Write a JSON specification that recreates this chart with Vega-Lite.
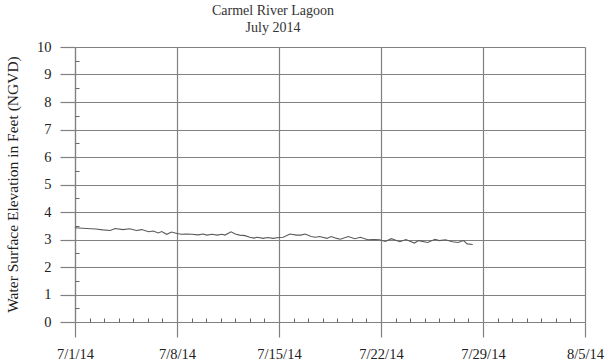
{
  "$schema": "https://vega.github.io/schema/vega-lite/v6.json",
  "width": 510,
  "height": 275,
  "autosize": {"type": "none"},
  "padding": {"left": 75, "top": 47, "right": 21, "bottom": 42},
  "background": "white",
  "config": {
    "view": {"stroke": null},
    "font": "Liberation Serif",
    "style": {"guide-label": {"font": "Liberation Serif"}, "guide-title": {"font": "Liberation Serif"}},
    "axis": {"labelFont": "Liberation Serif", "titleFont": "Liberation Serif"}
  },
  "title": {
    "text": ["Carmel River Lagoon", "July 2014"],
    "font": "Liberation Serif",
    "fontSize": 14,
    "fontWeight": "normal",
    "color": "#333",
    "lineHeight": 17,
    "anchor": "middle",
    "dx": -57,
    "dy": 1,
    "offset": 5
  },
  "data": {
    "values": [
      {"t": "2014-07-01T00:00", "v": 3.43},
      {"t": "2014-07-01T19:00", "v": 3.40},
      {"t": "2014-07-02T10:00", "v": 3.38},
      {"t": "2014-07-02T22:00", "v": 3.35},
      {"t": "2014-07-03T10:00", "v": 3.33},
      {"t": "2014-07-03T18:00", "v": 3.40},
      {"t": "2014-07-04T07:00", "v": 3.36},
      {"t": "2014-07-04T18:00", "v": 3.39},
      {"t": "2014-07-05T05:00", "v": 3.33},
      {"t": "2014-07-05T14:00", "v": 3.36},
      {"t": "2014-07-06T01:00", "v": 3.28},
      {"t": "2014-07-06T09:00", "v": 3.31},
      {"t": "2014-07-06T17:00", "v": 3.24},
      {"t": "2014-07-06T23:00", "v": 3.29},
      {"t": "2014-07-07T07:00", "v": 3.19},
      {"t": "2014-07-07T15:00", "v": 3.27},
      {"t": "2014-07-08T00:00", "v": 3.22},
      {"t": "2014-07-08T07:00", "v": 3.19},
      {"t": "2014-07-08T16:00", "v": 3.20},
      {"t": "2014-07-09T00:00", "v": 3.19},
      {"t": "2014-07-09T11:00", "v": 3.17},
      {"t": "2014-07-09T19:00", "v": 3.20},
      {"t": "2014-07-10T01:00", "v": 3.16},
      {"t": "2014-07-10T10:00", "v": 3.19},
      {"t": "2014-07-10T18:00", "v": 3.16},
      {"t": "2014-07-11T02:00", "v": 3.19},
      {"t": "2014-07-11T07:00", "v": 3.16},
      {"t": "2014-07-11T17:00", "v": 3.28},
      {"t": "2014-07-12T00:00", "v": 3.20},
      {"t": "2014-07-12T07:00", "v": 3.16},
      {"t": "2014-07-12T16:00", "v": 3.14},
      {"t": "2014-07-13T00:00", "v": 3.08},
      {"t": "2014-07-13T07:00", "v": 3.05},
      {"t": "2014-07-13T12:00", "v": 3.08},
      {"t": "2014-07-13T22:00", "v": 3.04},
      {"t": "2014-07-14T05:00", "v": 3.07},
      {"t": "2014-07-14T14:00", "v": 3.04},
      {"t": "2014-07-15T00:00", "v": 3.07},
      {"t": "2014-07-15T07:00", "v": 3.08},
      {"t": "2014-07-15T18:00", "v": 3.20},
      {"t": "2014-07-16T05:00", "v": 3.16},
      {"t": "2014-07-16T12:00", "v": 3.16},
      {"t": "2014-07-16T19:00", "v": 3.20},
      {"t": "2014-07-17T05:00", "v": 3.11},
      {"t": "2014-07-17T12:00", "v": 3.08},
      {"t": "2014-07-17T19:00", "v": 3.11},
      {"t": "2014-07-18T07:00", "v": 3.04},
      {"t": "2014-07-18T14:00", "v": 3.11},
      {"t": "2014-07-18T23:00", "v": 3.04},
      {"t": "2014-07-19T05:00", "v": 3.01},
      {"t": "2014-07-19T18:00", "v": 3.11},
      {"t": "2014-07-20T05:00", "v": 3.03},
      {"t": "2014-07-20T14:00", "v": 3.08},
      {"t": "2014-07-21T02:00", "v": 2.99},
      {"t": "2014-07-21T12:00", "v": 3.00},
      {"t": "2014-07-21T22:00", "v": 2.99},
      {"t": "2014-07-22T07:00", "v": 2.93},
      {"t": "2014-07-22T17:00", "v": 3.03},
      {"t": "2014-07-23T07:00", "v": 2.92},
      {"t": "2014-07-23T17:00", "v": 3.00},
      {"t": "2014-07-24T07:00", "v": 2.87},
      {"t": "2014-07-24T14:00", "v": 2.96},
      {"t": "2014-07-25T05:00", "v": 2.89},
      {"t": "2014-07-25T17:00", "v": 3.01},
      {"t": "2014-07-26T00:00", "v": 2.96},
      {"t": "2014-07-26T10:00", "v": 2.99},
      {"t": "2014-07-26T22:00", "v": 2.92},
      {"t": "2014-07-27T07:00", "v": 2.89},
      {"t": "2014-07-27T16:00", "v": 2.96},
      {"t": "2014-07-27T22:00", "v": 2.84},
      {"t": "2014-07-28T07:00", "v": 2.82}
    ]
  },
  "layer": [
    {
      "mark": {"type": "line", "color": "#5a5a5a", "strokeWidth": 1.1},
      "encoding": {
        "x": {
          "field": "t", "type": "temporal",
          "scale": {"domain": [{"year": 2014, "month": 7, "date": 1}, {"year": 2014, "month": 8, "date": 5}]},
          "axis": {
            "orient": "bottom", "title": null, "format": "%-m/%-d/%y",
            "labelFont": "Liberation Serif", "labelFontSize": 14.5, "labelColor": "#222",
            "values": [
              {"year": 2014, "month": 7, "date": 1}, {"year": 2014, "month": 7, "date": 8}, {"year": 2014, "month": 7, "date": 15},
              {"year": 2014, "month": 7, "date": 22}, {"year": 2014, "month": 7, "date": 29}, {"year": 2014, "month": 8, "date": 5}
            ],
            "grid": true, "gridColor": "#808080", "gridWidth": 1.2, "gridOpacity": 1,
            "domain": false,
            "tickSize": 15, "tickColor": "#808080", "tickWidth": 1.2,
            "labelPadding": 10, "labelFlush": false, "labelOverlap": false
          }
        },
        "y": {
          "field": "v", "type": "quantitative",
          "scale": {"domain": [0, 10], "nice": false, "zero": true},
          "axis": {
            "orient": "left",
            "title": "Water Surface Elevation in Feet (NGVD)",
            "titleFont": "Liberation Serif", "titleFontWeight": "normal", "titleColor": "#222",
            "titleFontSize": 15.5, "titleX": -63, "titleY": 137, "titleAngle": -90, "titleBaseline": "middle", "titleAlign": "center",
            "labelFont": "Liberation Serif", "labelFontSize": 14.5, "labelColor": "#222",
            "values": [0, 1, 2, 3, 4, 5, 6, 7, 8, 9, 10],
            "grid": true, "gridColor": "#808080", "gridWidth": 1.2, "gridOpacity": 1,
            "domain": true, "domainColor": "#808080", "domainWidth": 1.2,
            "tickSize": 15, "tickColor": "#808080", "tickWidth": 1.2,
            "labelPadding": 9, "labelFlush": false, "labelOverlap": false
          }
        }
      }
    },
    {
      "mark": {"type": "line", "opacity": 0},
      "encoding": {
        "x": {
          "field": "t", "type": "temporal",
          "scale": {"domain": [{"year": 2014, "month": 7, "date": 1}, {"year": 2014, "month": 8, "date": 5}]},
          "axis": {
            "orient": "bottom", "title": null, "labels": false, "grid": false, "domain": false,
            "tickSize": -4, "tickColor": "#666", "tickWidth": 1,
            "values": [
              {"year": 2014, "month": 7, "date": 2}, {"year": 2014, "month": 7, "date": 3}, {"year": 2014, "month": 7, "date": 4},
              {"year": 2014, "month": 7, "date": 5}, {"year": 2014, "month": 7, "date": 6}, {"year": 2014, "month": 7, "date": 7},
              {"year": 2014, "month": 7, "date": 9}, {"year": 2014, "month": 7, "date": 10}, {"year": 2014, "month": 7, "date": 11},
              {"year": 2014, "month": 7, "date": 12}, {"year": 2014, "month": 7, "date": 13}, {"year": 2014, "month": 7, "date": 14},
              {"year": 2014, "month": 7, "date": 16}, {"year": 2014, "month": 7, "date": 17}, {"year": 2014, "month": 7, "date": 18},
              {"year": 2014, "month": 7, "date": 19}, {"year": 2014, "month": 7, "date": 20}, {"year": 2014, "month": 7, "date": 21},
              {"year": 2014, "month": 7, "date": 23}, {"year": 2014, "month": 7, "date": 24}, {"year": 2014, "month": 7, "date": 25},
              {"year": 2014, "month": 7, "date": 26}, {"year": 2014, "month": 7, "date": 27}, {"year": 2014, "month": 7, "date": 28},
              {"year": 2014, "month": 7, "date": 30}, {"year": 2014, "month": 7, "date": 31}, {"year": 2014, "month": 8, "date": 1},
              {"year": 2014, "month": 8, "date": 2}, {"year": 2014, "month": 8, "date": 3}, {"year": 2014, "month": 8, "date": 4}
            ]
          }
        },
        "y": {
          "field": "v", "type": "quantitative",
          "scale": {"domain": [0, 10], "nice": false, "zero": true},
          "axis": {
            "orient": "left", "title": null, "labels": false, "grid": false, "domain": false,
            "tickSize": -4, "tickColor": "#666", "tickWidth": 1,
            "values": [0.5, 1.5, 2.5, 3.5, 4.5, 5.5, 6.5, 7.5, 8.5, 9.5]
          }
        }
      }
    }
  ],
  "resolve": {"axis": {"x": "independent", "y": "independent"}}
}
